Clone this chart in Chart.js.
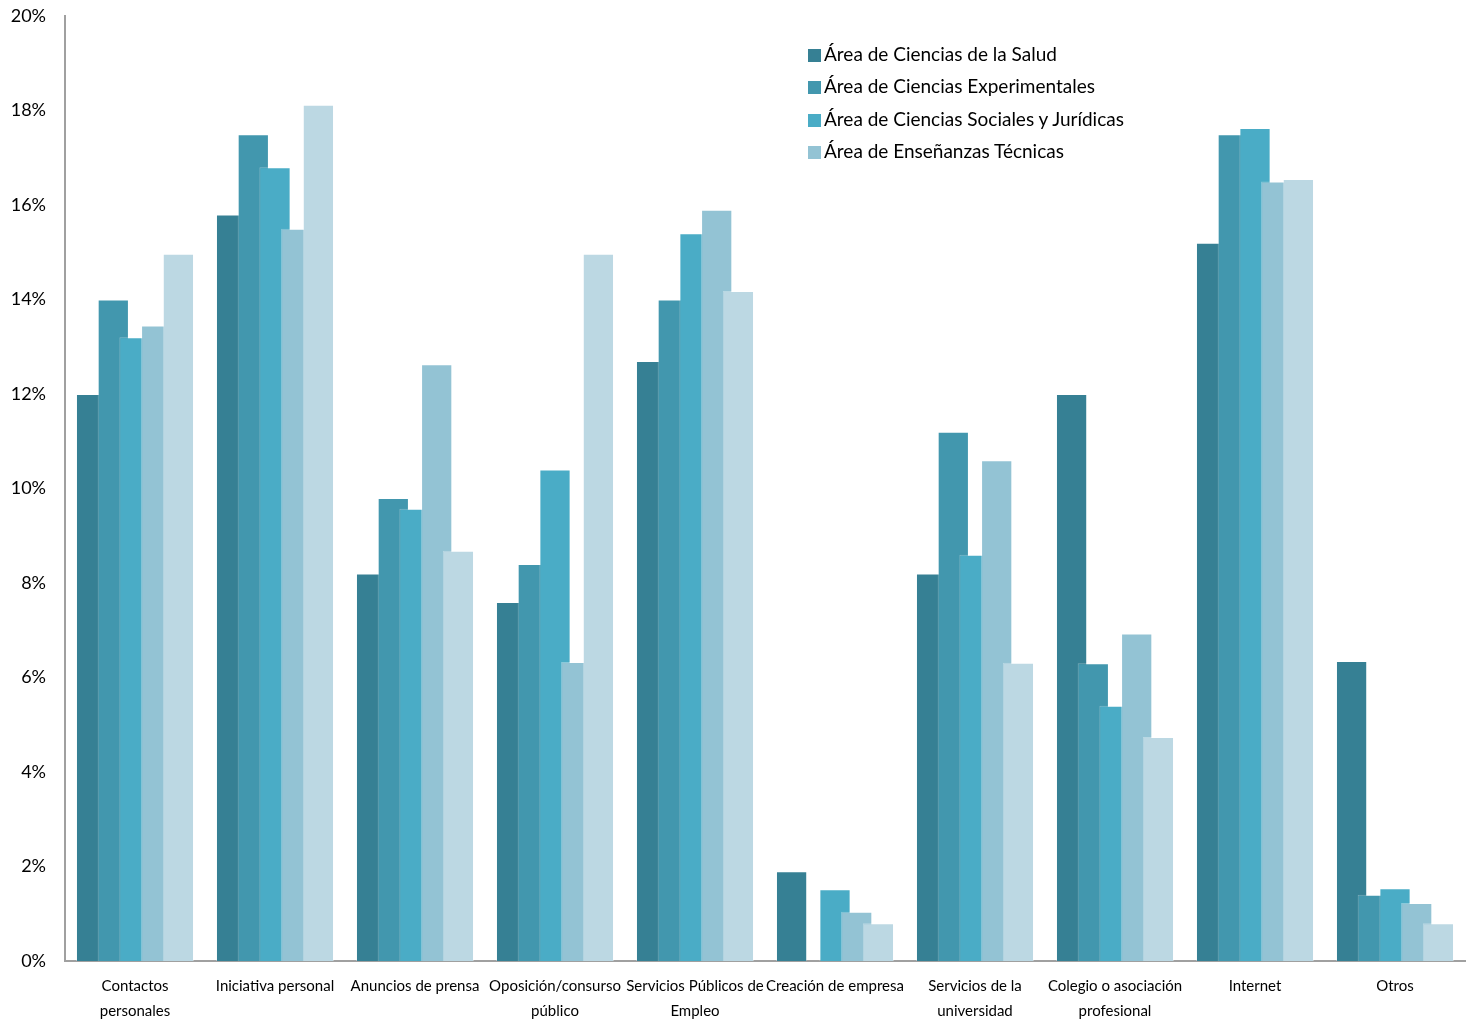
<!DOCTYPE html>
<html>
<head>
<meta charset="utf-8">
<script src="https://cdn.jsdelivr.net/npm/chart.js@4.4.0/dist/chart.umd.min.js"></script>
<style>
    html, body { margin: 0; padding: 0; background: #fff; }
    #wrap { position: relative; width: 1474px; height: 1022px; }
    #legend {
        position: absolute; left: 808px; top: 38px; margin: 0; padding: 0; list-style: none;
        font-family: Lato, sans-serif; font-size: 19px; color: #000;
    }
    #legend li { height: 32.4px; line-height: 32.4px; white-space: nowrap; }
    #legend span { display: inline-block; width: 13px; height: 13px; margin-right: 3px; vertical-align: -1px; }
</style>
</head>
<body>
<div id="wrap">
    <canvas id="chart" width="1474" height="1022"></canvas>
    <ul id="legend"></ul>
</div>
<script>
const categories = [
    ['Contactos', 'personales'],
    'Iniciativa personal',
    'Anuncios de prensa',
    ['Oposición/consurso', 'público'],
    ['Servicios Públicos de', 'Empleo'],
    'Creación de empresa',
    ['Servicios de la', 'universidad'],
    ['Colegio o asociación', 'profesional'],
    'Internet',
    'Otros'
];

const saludValues = [12.0, 15.8, 8.2, 7.6, 12.7, 1.9, 8.2, 12.0, 15.2, 6.35];
const experimentalesValues = [14.0, 17.5, 9.8, 8.4, 14.0, 0, 11.2, 6.3, 17.5, 1.4];
const socialesValues = [13.2, 16.8, 9.57, 10.4, 15.4, 1.52, 8.6, 5.4, 17.63, 1.54];
const tecnicasValues = [13.45, 15.5, 12.63, 6.33, 15.9, 1.04, 10.6, 6.93, 16.5, 1.23];
const quintaValues = [14.97, 18.12, 8.68, 14.97, 14.18, 0.8, 6.31, 4.74, 16.55, 0.8];

const yTicks = [0, 2, 4, 6, 8, 10, 12, 14, 16, 18, 20];

const seriesLabels = [
    'Área de Ciencias de la Salud',
    'Área de Ciencias Experimentales',
    'Área de Ciencias Sociales y Jurídicas',
    'Área de Enseñanzas Técnicas',
    ''
];
const seriesColors = ['#368094', '#4297ae', '#4aacc6', '#93c3d4', '#bcd8e3'];
const seriesValues = [saludValues, experimentalesValues, socialesValues, tecnicasValues, quintaValues];

const fontFamily = 'Lato, sans-serif';

// draw datasets first-to-last so the right-hand bar of each group sits on top
const drawOrderPlugin = {
    id: 'drawOrder',
    beforeDatasetsDraw(chart) {
        for (let i = 0; i < chart.data.datasets.length; i++) {
            const meta = chart.getDatasetMeta(i);
            if (meta.visible) meta.controller.draw();
        }
        return false;
    }
};

const datasets = seriesValues.map((values, i) => ({
    label: seriesLabels[i],
    data: values,
    backgroundColor: seriesColors[i],
    borderColor: 'rgba(255,255,255,0.35)',
    borderWidth: 1,
    categoryPercentage: 0.775,
    barPercentage: 1.44
}));

new Chart(document.getElementById('chart'), {
    type: 'bar',
    data: { labels: categories, datasets },
    plugins: [drawOrderPlugin],
    options: {
        responsive: false,
        animation: false,
        layout: { padding: { top: 16, right: 9, left: 0, bottom: 0 } },
        plugins: {
            legend: { display: false },
            tooltip: { enabled: false }
        },
        scales: {
            x: {
                grid: { display: false, drawTicks: false },
                border: { display: true, color: '#a0a0a0', width: 2 },
                ticks: {
                    color: '#000',
                    autoSkip: false,
                    maxRotation: 0,
                    padding: 13,
                    font: { family: fontFamily, size: 15, lineHeight: 1.65 }
                },
                afterFit: scale => { scale.height = 61; }
            },
            y: {
                min: 0,
                max: 20,
                grid: { display: false, drawTicks: false },
                border: { display: true, color: '#a0a0a0', width: 2 },
                afterBuildTicks: scale => { scale.ticks = yTicks.map(v => ({ value: v })); },
                ticks: {
                    color: '#000',
                    padding: 19,
                    font: { family: fontFamily, size: 18 },
                    callback: v => v + '%'
                },
                afterFit: scale => {
                    scale.width = 65;
                    scale.paddingTop = 0;
                    scale.paddingBottom = 0;
                }
            }
        }
    }
});

const legendEl = document.getElementById('legend');
seriesLabels.forEach((label, i) => {
    if (!label) return;
    const li = document.createElement('li');
    const box = document.createElement('span');
    box.style.background = seriesColors[i];
    li.appendChild(box);
    li.appendChild(document.createTextNode(label));
    legendEl.appendChild(li);
});
</script>
</body>
</html>
